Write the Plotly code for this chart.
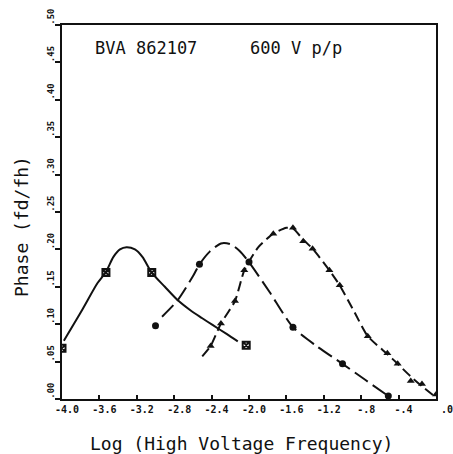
import plotly.graph_objects as go

# Measured points (log frequency, phase) for each run
sq_x = [-4.0, -3.53, -3.04, -2.03]
sq_y = [0.068, 0.169, 0.169, 0.072]

dot_x = [-3.0, -2.53, -2.0, -1.53, -1.0, -0.51]
dot_y = [0.098, 0.180, 0.183, 0.096, 0.047, 0.004]

tri_x = [-2.41, -2.30, -2.15, -2.05, -1.74, -1.53, -1.42, -1.32, -1.14,
         -1.03, -0.73, -0.52, -0.41, -0.27, -0.15, 0.0]
tri_y = [0.071, 0.101, 0.131, 0.172, 0.221, 0.229, 0.211, 0.201, 0.172,
         0.152, 0.084, 0.061, 0.047, 0.024, 0.020, 0.006]

# Hand-fitted curves drawn through each run
fit1_x = [-3.98, -3.78, -3.62, -3.53, -3.45, -3.38, -3.31, -3.22, -3.14,
          -3.04, -2.90, -2.77, -2.62, -2.50, -2.39, -2.24, -2.12]
fit1_y = [0.078, 0.120, 0.155, 0.170, 0.190, 0.200, 0.203, 0.200, 0.190,
          0.169, 0.150, 0.133, 0.118, 0.108, 0.099, 0.087, 0.077]

fit2_x = [-2.93, -2.77, -2.60, -2.53, -2.42, -2.30, -2.20, -2.10, -2.00,
          -1.78, -1.53, -1.28, -1.00, -0.75, -0.51]
fit2_y = [0.110, 0.131, 0.164, 0.180, 0.197, 0.208, 0.207, 0.198, 0.183,
          0.143, 0.096, 0.071, 0.047, 0.025, 0.004]

fit3_x = [-2.50, -2.41, -2.30, -2.15, -2.05, -1.90, -1.74, -1.60, -1.53,
          -1.42, -1.32, -1.14, -1.03, -0.88, -0.73, -0.52, -0.41, -0.27,
          -0.15, 0.0]
fit3_y = [0.057, 0.071, 0.101, 0.131, 0.172, 0.203, 0.221, 0.229, 0.228,
          0.213, 0.201, 0.172, 0.152, 0.118, 0.084, 0.060, 0.047, 0.030,
          0.017, 0.002]

x_ticks = [-4.0, -3.6, -3.2, -2.8, -2.4, -2.0, -1.6, -1.2, -0.8, -0.4, 0.0]
x_labels = ["-4.0", "-3.6", "-3.2", "-2.8", "-2.4", "-2.0", "-1.6", "-1.2",
            "-.8", "-.4", "\u00a0\u00a0.0"]
y_ticks = [0.0, 0.05, 0.10, 0.15, 0.20, 0.25, 0.30, 0.35, 0.40, 0.45, 0.50]
y_labels = [".00", ".05", ".10", ".15", ".20", ".25", ".30", ".35", ".40",
            ".45", ".50"]

INK = "#111111"
MONO = "DejaVu Sans Mono"

fig = go.Figure()

fig.add_trace(go.Scatter(x=fit1_x, y=fit1_y, mode="lines",
                         line=dict(color=INK, width=2, shape="spline",
                                   smoothing=0.8)))
fig.add_trace(go.Scatter(x=fit2_x, y=fit2_y, mode="lines",
                         line=dict(color=INK, width=2, dash="16px,6px",
                                   shape="spline", smoothing=0.7)))
fig.add_trace(go.Scatter(x=fit3_x, y=fit3_y, mode="lines",
                         line=dict(color=INK, width=2, dash="10px,5px",
                                   shape="spline", smoothing=0.6)))

fig.add_trace(go.Scatter(x=sq_x, y=sq_y, mode="markers",
                         marker=dict(symbol="square-x-open", size=7,
                                     color=INK, line=dict(color=INK, width=2))))
fig.add_trace(go.Scatter(x=dot_x, y=dot_y, mode="markers",
                         marker=dict(symbol="circle", size=7, color=INK)))
fig.add_trace(go.Scatter(x=tri_x, y=tri_y, mode="markers",
                         marker=dict(symbol="triangle-up", size=7, color=INK)))

fig.update_layout(
    width=453, height=454,
    margin=dict(l=62, r=17, t=25, b=55, autoexpand=False),
    paper_bgcolor="white", plot_bgcolor="white",
    showlegend=False,
    xaxis=dict(range=[-4.0, 0.0], tickvals=x_ticks, ticktext=x_labels,
               ticks="inside", ticklen=4, tickwidth=1.5, tickcolor=INK,
               showline=True, linecolor=INK, linewidth=2, mirror=True,
               showgrid=False, zeroline=False, ticklabelshift=5,
               ticklabeloverflow="allow", automargin=False,
               tickfont=dict(family=MONO, size=10, color=INK, weight="bold")),
    yaxis=dict(range=[0.0, 0.5], tickvals=y_ticks, ticktext=y_labels,
               ticks="outside", ticklen=5, tickwidth=1.5, tickcolor=INK,
               showline=True, linecolor=INK, linewidth=2, mirror=True,
               showgrid=False, zeroline=False, tickangle=-90,
               ticklabelshift=-7, ticklabelstandoff=-3,
               ticklabeloverflow="allow", automargin=False,
               tickfont=dict(family=MONO, size=9, color=INK, weight="bold")),
    annotations=[
        dict(text="BVA 862107", xref="paper", yref="paper", x=0.083, y=0.9385,
             xanchor="left", yanchor="middle", showarrow=False,
             font=dict(family=MONO, size=17, color=INK)),
        dict(text="600 V p/p", xref="paper", yref="paper", x=0.497, y=0.9385,
             xanchor="left", yanchor="middle", showarrow=False,
             font=dict(family=MONO, size=17, color=INK)),
        dict(text="Log (High Voltage Frequency)", xref="paper", yref="paper",
             x=0.481, y=-0.12, xanchor="center", yanchor="middle",
             showarrow=False, font=dict(family=MONO, size=18, color=INK)),
        dict(text="Phase (fd/fh)", xref="paper", yref="paper",
             x=-0.107, y=0.4626, xanchor="center", yanchor="middle",
             textangle=-90, showarrow=False,
             font=dict(family=MONO, size=18, color=INK)),
    ],
)

fig.write_html("out.html")
